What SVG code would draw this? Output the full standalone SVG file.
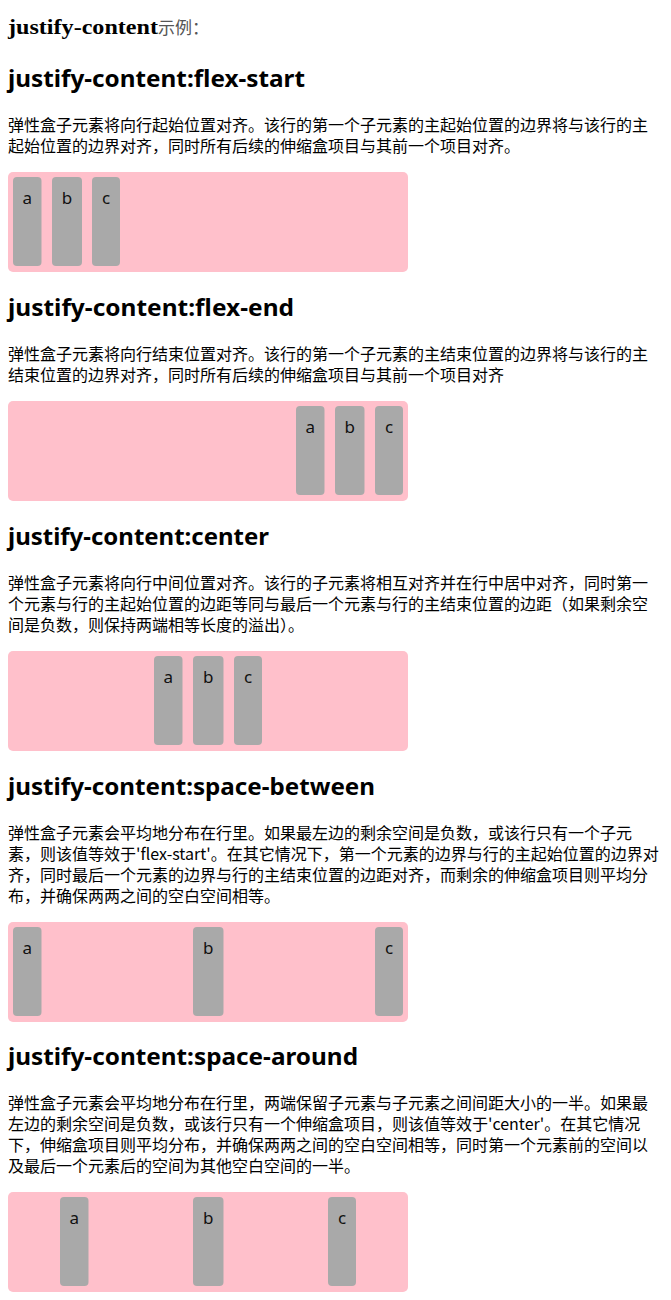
<svg xmlns="http://www.w3.org/2000/svg" width="671" height="1300" viewBox="0 0 671 1300">
<style>
.title{font-family:"Liberation Serif",serif;font-weight:bold;font-size:21px;fill:#000}
.titlecn{font-family:"Noto Sans CJK SC",sans-serif;font-size:17px;fill:#555}
.h{font-family:"Noto Sans","Noto Sans CJK SC",sans-serif;font-weight:bold;font-size:24px;fill:#000}
.p{font-family:"Noto Sans CJK SC","Noto Sans",sans-serif;font-size:16px;fill:#000}
.box{fill:#FFC0CB}
.item{fill:#A9A9A9}
.lbl{font-family:"Noto Sans","Open Sans",sans-serif;font-size:17px;fill:#111;text-anchor:middle}
</style>
<rect width="671" height="1300" fill="#fff"/>
<g id="title">
<text x="8" y="34" class="title" textLength="150" lengthAdjust="spacingAndGlyphs">justify-content</text>
<text x="158" y="34" class="titlecn">示例：</text>
</g>

<g id="section-flex-start">
<text x="8" y="87" class="h" textLength="297" lengthAdjust="spacingAndGlyphs">justify-content:flex-start</text>
<text x="8" y="131" class="p">弹性盒子元素将向行起始位置对齐。该行的第一个子元素的主起始位置的边界将与该行的主</text>
<text x="8" y="152" class="p">起始位置的边界对齐，同时所有后续的伸缩盒项目与其前一个项目对齐。</text>
<g id="box1"><rect x="8" y="172" width="400" height="100" rx="5" class="box"/></g>
<g id="box1-a"><rect x="13" y="177" width="28.5" height="89" rx="4" class="item"/><text x="27.2" y="204" class="lbl">a</text></g>
<g id="box1-b"><rect x="52" y="177" width="30" height="89" rx="4" class="item"/><text x="67" y="204" class="lbl">b</text></g>
<g id="box1-c"><rect x="92" y="177" width="28" height="89" rx="4" class="item"/><text x="106" y="204" class="lbl">c</text></g>
</g>

<g id="section-flex-end">
<text x="8" y="316" class="h" textLength="286" lengthAdjust="spacingAndGlyphs">justify-content:flex-end</text>
<text x="8" y="360" class="p">弹性盒子元素将向行结束位置对齐。该行的第一个子元素的主结束位置的边界将与该行的主</text>
<text x="8" y="381" class="p">结束位置的边界对齐，同时所有后续的伸缩盒项目与其前一个项目对齐</text>
<g id="box2"><rect x="8" y="401" width="400" height="100" rx="5" class="box"/></g>
<g id="box2-a"><rect x="296" y="406" width="28.5" height="89" rx="4" class="item"/><text x="310.2" y="433" class="lbl">a</text></g>
<g id="box2-b"><rect x="335" y="406" width="29.5" height="89" rx="4" class="item"/><text x="349.8" y="433" class="lbl">b</text></g>
<g id="box2-c"><rect x="375" y="406" width="28" height="89" rx="4" class="item"/><text x="389" y="433" class="lbl">c</text></g>
</g>

<g id="section-center">
<text x="8" y="545" class="h" textLength="261" lengthAdjust="spacingAndGlyphs">justify-content:center</text>
<text x="8" y="589" class="p">弹性盒子元素将向行中间位置对齐。该行的子元素将相互对齐并在行中居中对齐，同时第一</text>
<text x="8" y="610" class="p">个元素与行的主起始位置的边距等同与最后一个元素与行的主结束位置的边距（如果剩余空</text>
<text x="8" y="631" class="p">间是负数，则保持两端相等长度的溢出）。</text>
<g id="box3"><rect x="8" y="651" width="400" height="100" rx="5" class="box"/></g>
<g id="box3-a"><rect x="154" y="656" width="28.5" height="89" rx="4" class="item"/><text x="168.2" y="683" class="lbl">a</text></g>
<g id="box3-b"><rect x="193" y="656" width="30.5" height="89" rx="4" class="item"/><text x="208.2" y="683" class="lbl">b</text></g>
<g id="box3-c"><rect x="234" y="656" width="28" height="89" rx="4" class="item"/><text x="248" y="683" class="lbl">c</text></g>
</g>

<g id="section-space-between">
<text x="8" y="795" class="h" textLength="367" lengthAdjust="spacingAndGlyphs">justify-content:space-between</text>
<text x="8" y="839" class="p">弹性盒子元素会平均地分布在行里。如果最左边的剩余空间是负数，或该行只有一个子元</text>
<text x="8" y="860" class="p">素，则该值等效于'flex-start'。在其它情况下，第一个元素的边界与行的主起始位置的边界对</text>
<text x="8" y="881" class="p">齐，同时最后一个元素的边界与行的主结束位置的边距对齐，而剩余的伸缩盒项目则平均分</text>
<text x="8" y="902" class="p">布，并确保两两之间的空白空间相等。</text>
<g id="box4"><rect x="8" y="922" width="400" height="100" rx="5" class="box"/></g>
<g id="box4-a"><rect x="13" y="927" width="28.5" height="89" rx="4" class="item"/><text x="27.2" y="954" class="lbl">a</text></g>
<g id="box4-b"><rect x="193" y="927" width="30.5" height="89" rx="4" class="item"/><text x="208.2" y="954" class="lbl">b</text></g>
<g id="box4-c"><rect x="375" y="927" width="28" height="89" rx="4" class="item"/><text x="389" y="954" class="lbl">c</text></g>
</g>

<g id="section-space-around">
<text x="8" y="1065" class="h" textLength="350" lengthAdjust="spacingAndGlyphs">justify-content:space-around</text>
<text x="8" y="1109" class="p">弹性盒子元素会平均地分布在行里，两端保留子元素与子元素之间间距大小的一半。如果最</text>
<text x="8" y="1130" class="p">左边的剩余空间是负数，或该行只有一个伸缩盒项目，则该值等效于'center'。在其它情况</text>
<text x="8" y="1151" class="p">下，伸缩盒项目则平均分布，并确保两两之间的空白空间相等，同时第一个元素前的空间以</text>
<text x="8" y="1172" class="p">及最后一个元素后的空间为其他空白空间的一半。</text>
<g id="box5"><rect x="8" y="1192" width="400" height="100" rx="5" class="box"/></g>
<g id="box5-a"><rect x="60" y="1197" width="28.5" height="89" rx="4" class="item"/><text x="74.2" y="1224" class="lbl">a</text></g>
<g id="box5-b"><rect x="193" y="1197" width="30.5" height="89" rx="4" class="item"/><text x="208.2" y="1224" class="lbl">b</text></g>
<g id="box5-c"><rect x="328" y="1197" width="28" height="89" rx="4" class="item"/><text x="342" y="1224" class="lbl">c</text></g>
</g>
<g id="connectors"/>
</svg>
